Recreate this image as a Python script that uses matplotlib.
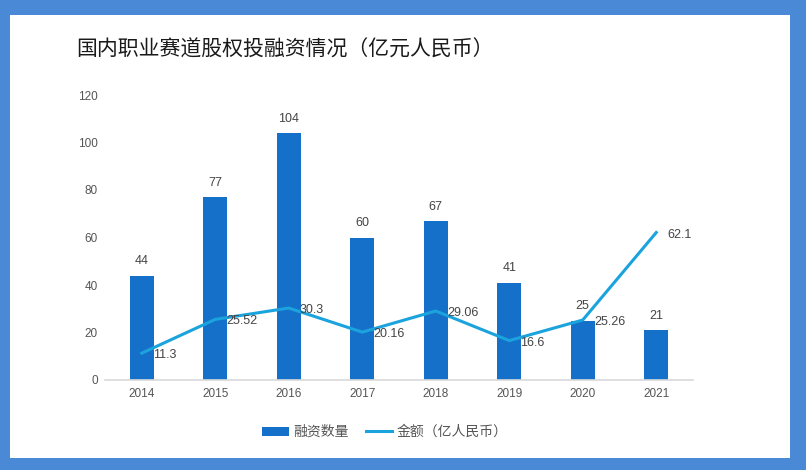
import matplotlib
matplotlib.use("Agg")
import matplotlib.pyplot as plt
from matplotlib.patches import Rectangle
import numpy as np

years = ["2014", "2015", "2016", "2017", "2018", "2019", "2020", "2021"]
counts = [44, 77, 104, 60, 67, 41, 25, 21]
amounts = [11.3, 25.52, 30.3, 20.16, 29.06, 16.6, 25.26, 62.1]
amount_labels = ["11.3", "25.52", "30.3", "20.16", "29.06", "16.6", "25.26", "62.1"]
yticks = [0, 20, 40, 60, 80, 100, 120]

title = "国内职业赛道股权投融资情况（亿元人民币）"
bar_name = "融资数量"
line_name = "金额（亿人民币）"

num_font = ["Liberation Sans", "Noto Sans CJK SC"]
cjk_font = ["Noto Sans CJK SC", "DejaVu Sans"]

bar_color = "#1570C9"
line_color = "#1BA3DD"
border_color = "#4A89D6"
text_gray = "#555555"

fig = plt.figure(figsize=(8.06, 4.70), dpi=100)
W, H = 806, 470

# blue frame
fig.patches.append(Rectangle((0, 0), 1, 1, transform=fig.transFigure,
                             facecolor=border_color, edgecolor="none", zorder=-10))
fig.patches.append(Rectangle((10 / W, 1 - 458 / H), (790 - 10) / W, (458 - 15) / H,
                             transform=fig.transFigure, facecolor="white",
                             edgecolor="none", zorder=-9))

ax = fig.add_axes([105 / W, 1 - 380 / H, (693 - 105) / W, (380 - 95) / H])
ax.set_facecolor("none")
x = np.arange(len(years))

bars = ax.bar(x, counts, width=0.32, color=bar_color, label=bar_name, zorder=2)
line, = ax.plot(x, amounts, color=line_color, lw=2.2, label=line_name, zorder=3)

for xi, v in zip(x, counts):
    ax.annotate(str(v), (xi, v), xytext=(0, 6), textcoords="offset points",
                ha="center", va="bottom", fontsize=9, color="#444444",
                family=num_font)
for xi, v, lab in zip(x, amounts, amount_labels):
    ax.annotate(lab, (xi, v), xytext=(8, -1.5), textcoords="offset points",
                ha="left", va="center", fontsize=9, color="#444444",
                family=num_font)

ax.set_xlim(-0.5, len(years) - 0.5)
ax.set_ylim(0, 120)
ax.set_yticks(yticks)
ax.set_yticklabels([str(t) for t in yticks], family=num_font, fontsize=8.5, color=text_gray)
ax.set_xticks(x)
ax.set_xticklabels(years, family=num_font, fontsize=8.5, color=text_gray)
ax.tick_params(axis="x", length=0, pad=6)
ax.tick_params(axis="y", length=0, pad=5)
for s in ["top", "right", "left"]:
    ax.spines[s].set_visible(False)
ax.spines["bottom"].set_color("#D9D9D9")
ax.spines["bottom"].set_linewidth(1.2)

fig.text(76 / W, 1 - 50 / H, title, family=cjk_font, fontsize=15,
         color="#1A1A1A", ha="left", va="center")

leg = fig.legend(handles=[bars, line], labels=[bar_name, line_name],
                 loc="center", bbox_to_anchor=(385 / W, 1 - 432 / H), ncol=2,
                 frameon=False, prop={"family": cjk_font, "size": 10},
                 handlelength=1.9, handleheight=0.6, columnspacing=1.2,
                 handletextpad=0.35)
for t in leg.get_texts():
    t.set_color(text_gray)

fig.savefig("out.png", dpi=100)
